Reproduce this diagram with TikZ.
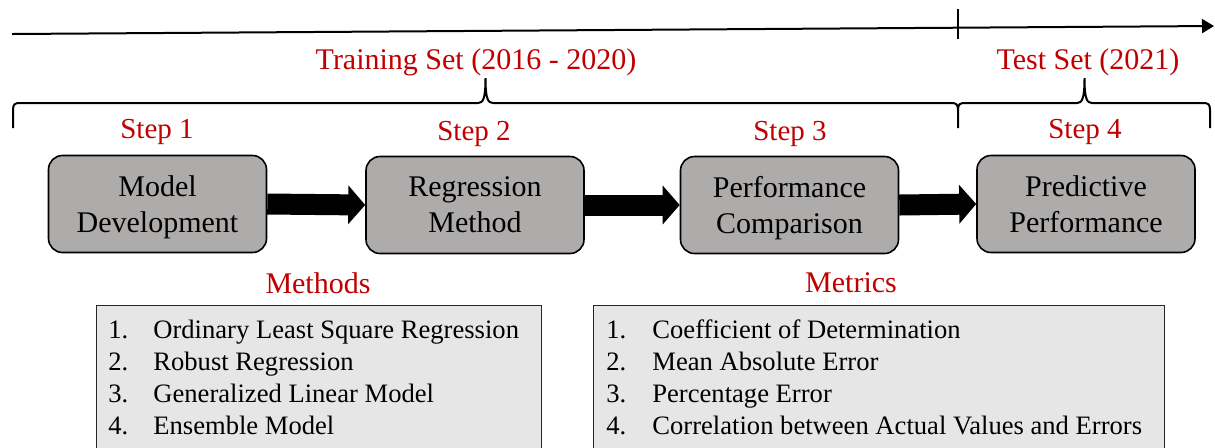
\documentclass[tikz,border=0pt]{standalone}
\usepackage{fontspec}
\setmainfont{Liberation Serif}
\usetikzlibrary{arrows.meta}
\definecolor{stepred}{HTML}{C00000}
\definecolor{stepgray}{HTML}{AEABAB}
\definecolor{listgray}{HTML}{E7E6E6}
\begin{document}
\begin{tikzpicture}[x=0.5pt,y=-0.5pt,
    stepbox/.style={draw=black,line width=0.8pt,fill=stepgray,rounded corners=7pt,
      minimum width=109pt,minimum height=48.5pt,inner sep=0pt,align=center,
      text depth=0pt,font=\fontsize{15}{18}\selectfont},
    redlabel/.style={text=stepred,inner sep=0pt,font=\fontsize{15}{18}\selectfont},
    steplabel/.style={redlabel,font=\fontsize{14.5}{17}\selectfont},
    setbrace/.style={line width=1pt},
    flow/.style={line width=10.5pt,-{Triangle[length=8.5pt,width=19pt]}},
    listbox/.style={draw=black!85,line width=0.5pt,fill=listgray,anchor=north west,
      minimum height=90pt,inner sep=0pt},
    listtext/.style={anchor=north west,inner sep=0pt,font=\fontsize{13.3}{16}\selectfont}]
  \useasboundingbox (0,0) rectangle (1215,447);

  % time axis with the split between training and test years
  \coordinate (t0) at (12,34);
  \coordinate (t1) at (1214,26);
  \coordinate (cut0) at (958,9);
  \coordinate (cut1) at (958,39);
  \draw[line width=1pt,-{Triangle[length=6pt,width=7pt]}] (t0) -- (t1);
  \draw[line width=0.8pt] (cut0) -- (cut1);

  \node[redlabel] (train) at (476,62) {Training Set (2016 - 2020)};
  \node[redlabel] (test) at (1088,62) {Test Set (2021)};

  % braces over the two periods
  \draw[setbrace] (13,128) -- (13,110) .. controls (13,104) and (15,103) .. (20,103)
    -- (478,103) .. controls (483,103) and (485.5,99) .. (485.5,78)
    .. controls (485.5,99) and (488,103) .. (493,103)
    -- (951,103) .. controls (956,103) and (958,104) .. (958,110) -- (958,128);
  \draw[setbrace] (958,110) .. controls (958,104) and (960,103) .. (965,103)
    -- (1077,103) .. controls (1082,103) and (1084.5,99) .. (1084.5,78)
    .. controls (1084.5,99) and (1087,103) .. (1092,103)
    -- (1203,103) .. controls (1208,103) and (1210,104) .. (1210,110) -- (1210,128);

  % the four steps
  \node[steplabel] (l1) at (157,132) {Step 1};
  \node[steplabel] (l2) at (474,134) {Step 2};
  \node[steplabel] (l3) at (790,134) {Step 3};
  \node[steplabel] (l4) at (1085,132) {Step 4};

  \node[stepbox] (1) at (157.5,204) {Model\\Development};
  \node[stepbox] (2) at (475,205) {Regression\\Method};
  \node[stepbox] (3) at (789.5,205) {Performance\\Comparison};
  \node[stepbox] (4) at (1086,204) {Predictive\\Performance};
  \begin{scope}[flow]
    \draw (1.east) -- (2.west);
    \draw (2.east) -- (3.west);
    \draw (3.east) -- (4.west);
  \end{scope}

  % methods and metrics lists
  \node[redlabel] (methods) at (318,283) {Methods};
  \node[redlabel] (metrics) at (851,283) {Metrics};

  \node[listbox,minimum width=222.5pt] (methodbox) at (96,305) {};
  \node[listbox,minimum width=285.5pt] (metricbox) at (593,305) {};

  \node[listtext] (methodlist) at (108,316) {%
    \begin{tabular}{@{}p{22.5pt}@{}l@{}}
      1. & Ordinary Least Square Regression\\
      2. & Robust Regression\\
      3. & Generalized Linear Model\\
      4. & Ensemble Model
    \end{tabular}};
  \node[listtext] (metriclist) at (606,316) {%
    \begin{tabular}{@{}p{23pt}@{}l@{}}
      1. & Coefficient of Determination\\
      2. & Mean Absolute Error\\
      3. & Percentage Error\\
      4. & Correlation between Actual Values and Errors
    \end{tabular}};
\end{tikzpicture}
\end{document}
